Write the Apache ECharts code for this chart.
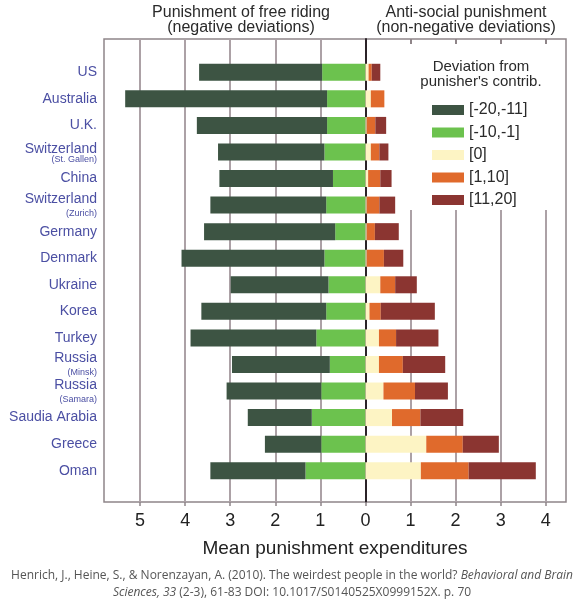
<!DOCTYPE html>
<html>
<head>
<meta charset="utf-8">
<script src="https://cdn.jsdelivr.net/npm/echarts@6/dist/echarts.min.js"></script>
<style>
  html, body { margin: 0; padding: 0; background: #fff; }
  #chart { width: 585px; height: 600px; }
</style>
</head>
<body>
<div id="chart"></div>
<script>
// countries, top to bottom, with the small sub label under some names
const countries = ['US', 'Australia', 'U.K.', 'Switzerland', 'China', 'Switzerland', 'Germany', 'Denmark',
  'Ukraine', 'Korea', 'Turkey', 'Russia', 'Russia', 'Saudia Arabia', 'Greece', 'Oman']
const subLabels = ['', '', '', '(St. Gallen)', '', '(Zurich)', '', '', '', '', '', '(Minsk)', '(Samara)', '', '', '']

const seriesNames = ['[-20,-11]', '[-10,-1]', '[0]', '[1,10]', '[11,20]']

// punishment of free riding (drawn to the left of 0)
const dev20to11 = [2.73, 4.48, 2.89, 2.36, 2.52, 2.57, 2.91, 3.17, 2.17, 2.77, 2.79, 2.17, 2.10, 1.42, 1.25, 2.11]
const dev10to1 = [0.96, 0.85, 0.85, 0.91, 0.72, 0.87, 0.67, 0.91, 0.82, 0.87, 1.09, 0.79, 0.98, 1.19, 0.98, 1.33]

// anti-social punishment (drawn to the right of 0)
const dev0 = [0.07, 0.12, 0.03, 0.12, 0.06, 0.03, 0.03, 0.03, 0.33, 0.09, 0.30, 0.30, 0.40, 0.59, 1.35, 1.23]
const dev1to10 = [0.07, 0.30, 0.19, 0.19, 0.27, 0.28, 0.18, 0.38, 0.33, 0.25, 0.38, 0.53, 0.70, 0.63, 0.81, 1.06]
const dev11to20 = [0.19, 0, 0.24, 0.20, 0.25, 0.35, 0.53, 0.43, 0.48, 1.20, 0.94, 0.94, 0.73, 0.95, 0.80, 1.49]

const tickValues = [-5, -4, -3, -2, -1, 0, 1, 2, 3, 4]
const topTickValues = [1, 2, 3, 4]

const colors = ['#3d5443', '#6cc24e', '#fdf4c4', '#e06a2c', '#8b3531']
const frameColor = '#8f8589'
const gridColor = '#aca1a6'
const labelColor = '#4b4fa3'
const font = '"Liberation Sans", Arial, sans-serif'

const X_MIN = -5.8
const X_MAX = 4.45

const chart = echarts.init(document.getElementById('chart'))

// unique keys for the category axis (two Switzerlands, two Russias)
const catKeys = countries.map((c, i) => c + '|' + subLabels[i])

function barSeries(name, values, color) {
  return {
    name: name,
    type: 'bar',
    stack: 'total',
    xAxisIndex: 2,
    yAxisIndex: 1,
    barWidth: 17,
    itemStyle: { color: color },
    emphasis: { disabled: true },
    data: values
  }
}

const option = {
  animation: false,
  backgroundColor: '#fff',
  textStyle: { fontFamily: font },
  grid: [
    // frame with the gridlines
    { left: 104, top: 39, width: 462, height: 463, show: true, borderColor: frameColor, borderWidth: 1.5, backgroundColor: 'transparent' },
    // the bars
    { left: 104, top: 59, width: 462, height: 425 }
  ],
  xAxis: [
    {
      gridIndex: 0,
      type: 'value',
      min: X_MIN,
      max: X_MAX,
      position: 'bottom',
      axisLine: { show: false },
      axisTick: { show: true, length: 4, customValues: tickValues, lineStyle: { color: frameColor, width: 1.5 } },
      axisLabel: {
        customValues: tickValues,
        formatter: v => String(Math.abs(v)),
        fontSize: 18,
        color: '#222',
        margin: 10
      },
      splitLine: { show: true, lineStyle: { color: gridColor, width: 2 } },
      name: 'Mean punishment expenditures',
      nameLocation: 'middle',
      nameGap: 37,
      nameTextStyle: { fontSize: 19, color: '#222' }
    },
    {
      gridIndex: 0,
      type: 'value',
      min: X_MIN,
      max: X_MAX,
      position: 'top',
      z: 10,
      axisLine: { show: false },
      axisTick: { show: true, inside: true, length: 5, customValues: topTickValues, lineStyle: { color: frameColor, width: 2 } },
      axisLabel: { show: false },
      splitLine: { show: false }
    },
    {
      gridIndex: 1,
      type: 'value',
      min: X_MIN,
      max: X_MAX,
      show: false
    }
  ],
  yAxis: [
    {
      // the dark zero line
      gridIndex: 0,
      type: 'value',
      min: 0,
      max: 1,
      axisLine: { show: true, onZero: true, lineStyle: { color: '#2b2328', width: 2 } },
      axisTick: { show: false },
      axisLabel: { show: false },
      splitLine: { show: false }
    },
    {
      gridIndex: 1,
      type: 'category',
      inverse: true,
      data: catKeys,
      axisLine: { show: false },
      axisTick: { show: false },
      axisLabel: {
        margin: 7,
        formatter: v => {
          const parts = v.split('|')
          if (!parts[1]) return '{a|' + parts[0] + '}'
          const main = parts[1] === '(St. Gallen)' ? 'a2' : 'a'
          return '{' + main + '|' + parts[0] + '}\n{b|' + parts[1] + '}'
        },
        rich: {
          a: { fontSize: 14, color: labelColor, lineHeight: 16, align: 'right' },
          a2: { fontSize: 14, color: labelColor, lineHeight: 16, align: 'right', padding: [6, 0, 0, 0] },
          b: { fontSize: 9, color: labelColor, lineHeight: 12, align: 'right' }
        }
      }
    }
  ],
  legend: {
    data: seriesNames,
    orient: 'vertical',
    left: 427,
    top: 97,
    z: 10,
    selectedMode: false,
    icon: 'rect',
    itemWidth: 32,
    itemHeight: 10,
    itemGap: 6.5,
    textStyle: { fontSize: 16, color: '#2a2a2a' }
  },
  graphic: [
    // white panel behind the legend that hides the gridlines
    { type: 'rect', z: 5, shape: { x: 405, y: 41, width: 158, height: 169 }, style: { fill: '#fff' } },
    {
      type: 'text', z: 10, x: 481, y: 74,
      style: { text: 'Deviation from\npunisher\'s contrib.', font: '15px ' + font, fill: '#2a2a2a', align: 'center', verticalAlign: 'middle', lineHeight: 15 }
    },
    {
      type: 'text', z: 10, x: 241, y: 20,
      style: { text: 'Punishment of free riding\n(negative deviations)', font: '16px ' + font, fill: '#2a2a2a', align: 'center', verticalAlign: 'middle', lineHeight: 15 }
    },
    {
      type: 'text', z: 10, x: 466, y: 20,
      style: { text: 'Anti-social punishment\n(non-negative deviations)', font: '16px ' + font, fill: '#2a2a2a', align: 'center', verticalAlign: 'middle', lineHeight: 15 }
    },
    {
      type: 'text', z: 10, x: 292, y: 584,
      style: {
        text: '{n|Henrich, J., Heine, S., & Norenzayan, A. (2010). The weirdest people in the world? }{i|Behavioral and Brain}\n{i|Sciences, 33}{n| (2-3), 61-83 DOI: 10.1017/S0140525X0999152X. p. 70}',
        align: 'center',
        verticalAlign: 'middle',
        rich: {
          n: { font: '12px "Open Sans", sans-serif', fill: '#555', lineHeight: 17 },
          i: { font: 'italic 12px "Open Sans", sans-serif', fill: '#555', lineHeight: 17 }
        }
      }
    }
  ],
  series: [
    barSeries(seriesNames[1], dev10to1.map(v => -v), colors[1]),
    barSeries(seriesNames[0], dev20to11.map(v => -v), colors[0]),
    barSeries(seriesNames[2], dev0, colors[2]),
    barSeries(seriesNames[3], dev1to10, colors[3]),
    barSeries(seriesNames[4], dev11to20, colors[4])
  ]
}

chart.setOption(option)
</script>
</body>
</html>
